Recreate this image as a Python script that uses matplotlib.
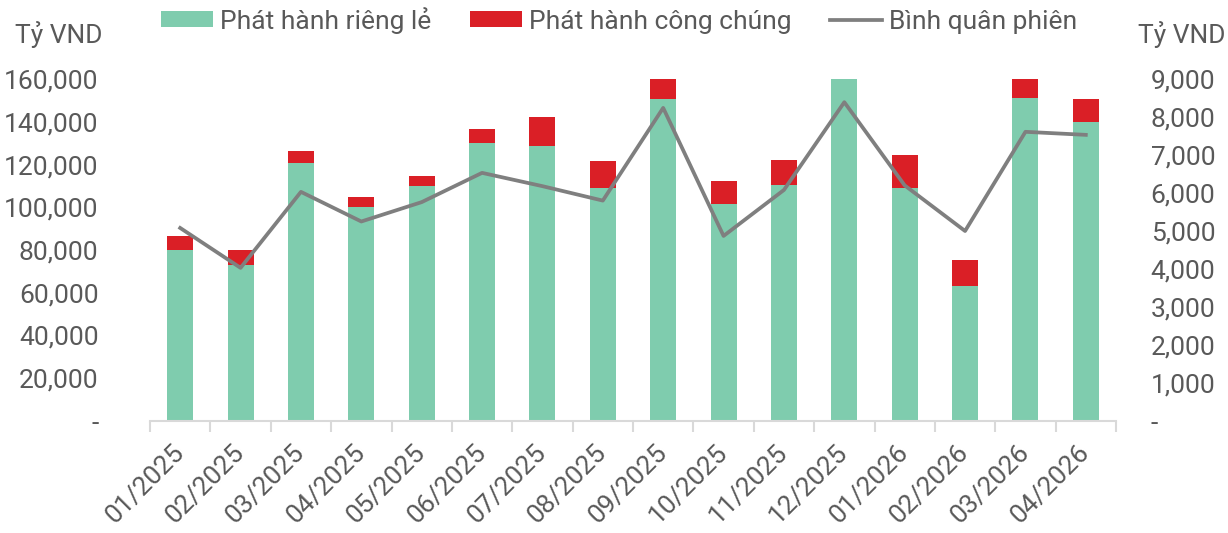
import matplotlib
matplotlib.use("Agg")
import matplotlib.pyplot as plt
import numpy as np
from matplotlib.ticker import FuncFormatter

categories = ["01/2025", "02/2025", "03/2025", "04/2025", "05/2025", "06/2025", "07/2025", "08/2025",
              "09/2025", "10/2025", "11/2025", "12/2025", "01/2026", "02/2026", "03/2026", "04/2026"]
rieng_le = [80000, 73000, 120700, 100100, 110000, 130000, 128700, 109000,
            150600, 101500, 110400, 160000, 109000, 63200, 151100, 139900]
cong_chung = [6500, 7000, 5600, 4700, 4600, 6600, 13500, 12600,
              9400, 10800, 11700, 0, 15400, 12100, 8900, 10700]
binh_quan = [5080, 4030, 6030, 5250, 5760, 6530, 6180, 5800,
             8240, 4870, 6080, 8390, 6200, 5000, 7610, 7530]

GREEN = "#7FCCAE"
RED = "#DA1F26"
GRAY = "#7F7F7F"
TXT = "#595959"

plt.rcParams['font.family'] = ['Roboto', 'DejaVu Sans']

fig = plt.figure(figsize=(12.28, 5.33), dpi=100)
ax = fig.add_axes([150/1228, 1-421/533, (1116-150)/1228, (421-79)/533])
ax2 = ax.twinx()

x = np.arange(len(categories))
w = 0.43
b1 = ax.bar(x, rieng_le, width=w, color=GREEN, label="Phát hành riêng lẻ", zorder=2)
b2 = ax.bar(x, cong_chung, width=w, bottom=rieng_le, color=RED, label="Phát hành công chúng", zorder=2)
l1, = ax2.plot(x, binh_quan, color=GRAY, lw=2.7, label="Bình quân phiên", zorder=3)

ax.set_xlim(-0.5, len(categories) - 0.5)
ax.set_ylim(0, 160000)
ax2.set_ylim(0, 9000)
ax.set_yticks(np.arange(0, 160001, 20000))
ax2.set_yticks(np.arange(0, 9001, 1000))

fmt = FuncFormatter(lambda v, p: "-" if v == 0 else f"{int(v):,}")
ax.yaxis.set_major_formatter(fmt)
ax2.yaxis.set_major_formatter(fmt)

for a in (ax, ax2):
    for s in ("top", "left", "right"):
        a.spines[s].set_visible(False)
ax2.spines["bottom"].set_visible(False)
ax.spines["bottom"].set_color("#D9D9D9")
ax.spines["bottom"].set_linewidth(1.5)

ax.tick_params(axis="y", length=0, pad=37, labelsize=19, labelcolor=TXT)
ax2.tick_params(axis="y", length=0, pad=25, labelsize=19, labelcolor=TXT)
for lab in ax2.get_yticklabels():
    lab.set_ha("left")

ax.set_xticks(x)
ax.set_xticklabels(categories, rotation=45, ha="right", va="center", rotation_mode="anchor")
ax.tick_params(axis="x", which="major", length=0, pad=20, labelsize=19, labelcolor=TXT)
ax.set_xticks(np.arange(-0.5, len(categories), 1), minor=True)
ax.tick_params(axis="x", which="minor", length=8, width=1.5, color="#D9D9D9")

fig.text(15/1228, 1-35/533, "Tỷ VND", ha="left", va="center", fontsize=19, color=TXT)
fig.text(1138/1228, 1-35/533, "Tỷ VND", ha="left", va="center", fontsize=19, color=TXT)

leg = fig.legend(handles=[b1, b2, l1], loc="center", bbox_to_anchor=(0.504, 0.962), ncol=3,
                 frameon=False, fontsize=19, handlelength=2.0, handleheight=0.55,
                 handletextpad=0.25, columnspacing=1.45, labelcolor=TXT)

fig.savefig("out.png", dpi=100)
